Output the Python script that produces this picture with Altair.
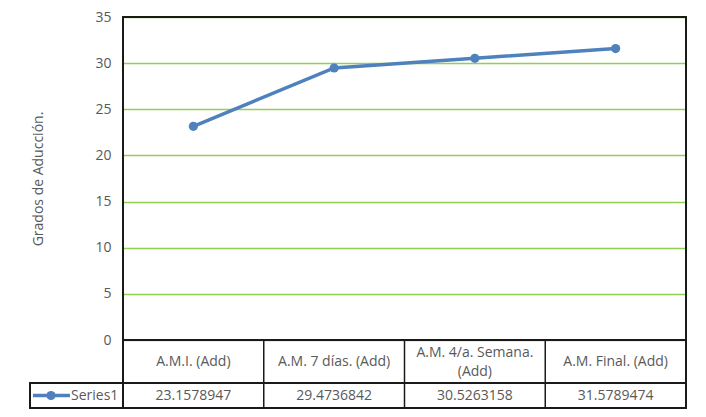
import altair as alt
import pandas as pd

categories = ["A.M.I. (Add)", "A.M. 7 días. (Add)", "A.M. 4/a. Semana. (Add)", "A.M. Final. (Add)"]
header_labels = ["A.M.I. (Add)", "A.M. 7 días. (Add)", "A.M. 4/a. Semana.\n(Add)", "A.M. Final. (Add)"]
values = [23.1578947, 29.4736842, 30.5263158, 31.5789474]
series_name = "Series1"
y_ticks = [0, 5, 10, 15, 20, 25, 30, 35]

W = 563      # plot width
PH = 323     # line plot height
HH = 43      # table header row height
DH = 25      # table data row height
TH = HH + DH
LEG = 93     # legend cell width
LINE_H = 19

FONT = "Open Sans"
GRAY = "#595959"
BLUE = "#4f81bd"
GREEN = "#92d050"
BORDER = "#1a1a1a"

df = pd.DataFrame({
    "cat": categories,
    "header": [h.split("\n") for h in header_labels],
    "nlines": [len(h.split("\n")) for h in header_labels],
    "value": values,
    "series": [series_name] * len(values),
})

sc = alt.Scale(domain=categories, paddingInner=0, paddingOuter=0)
xmid = alt.X("cat:N", scale=sc, axis=None, bandPosition=0.5)
xleft = alt.X("cat:N", scale=sc, axis=None, bandPosition=0)

base = alt.Chart(df)

yenc = alt.Y(
    "value:Q",
    scale=alt.Scale(domain=[0, 35], range=[PH, 0], nice=False, zero=True),
    axis=alt.Axis(
        values=y_ticks,
        title="Grados de Aducción.",
        titleFont=FONT,
        titleFontSize=14,
        titleFontWeight="normal",
        titleColor=GRAY,
        titlePadding=49,
        labelFont=FONT,
        labelFontSize=14,
        labelColor=GRAY,
        labelPadding=12,
        ticks=False,
        domain=False,
        grid=True,
        gridColor=GREEN,
        gridWidth=1.5,
    ),
)

line = base.mark_line(color=BLUE, strokeWidth=3.5).encode(x=xmid, y=yenc)
points = base.mark_point(filled=True, color=BLUE, size=85, opacity=1).encode(x=xmid, y=yenc)

frame = alt.Chart(df).mark_rect(fill="white", fillOpacity=0, stroke=BORDER, strokeWidth=1.5).encode(
    x=alt.value(0), x2=alt.value(W), y=alt.value(0), y2=alt.value(PH + TH)
)
axis_line = alt.Chart(df).mark_rule(color=BORDER, strokeWidth=1.5).encode(
    x=alt.value(0), x2=alt.value(W), y=alt.value(PH)
)
row_line = alt.Chart(df).mark_rule(color=BORDER, strokeWidth=1.5).encode(
    x=alt.value(-LEG), x2=alt.value(W), y=alt.value(PH + HH)
)
legend_cell = alt.Chart(df).mark_rect(fill="white", fillOpacity=0, stroke=BORDER, strokeWidth=1.5).encode(
    x=alt.value(-LEG), x2=alt.value(0), y=alt.value(PH + HH), y2=alt.value(PH + TH)
)
dividers = base.mark_rule(color=BORDER, strokeWidth=1.5).encode(
    x=xleft, y=alt.value(PH), y2=alt.value(PH + TH)
)

header_one = base.transform_filter("datum.nlines == 1").mark_text(
    font=FONT, fontSize=14, color=GRAY, baseline="middle", align="center", lineHeight=LINE_H
).encode(x=xmid, y=alt.value(PH + HH / 2 + 0.5), text="header")
header_two = base.transform_filter("datum.nlines == 2").mark_text(
    font=FONT, fontSize=14, color=GRAY, baseline="middle", align="center", lineHeight=LINE_H
).encode(x=xmid, y=alt.value(PH + HH / 2 + 0.5 - LINE_H / 2), text="header")
value_text = base.mark_text(font=FONT, fontSize=14, color=GRAY, baseline="middle", align="center").encode(
    x=xmid, y=alt.value(PH + HH + DH / 2), text=alt.Text("value:Q", format=".7f")
)

leg_df = pd.DataFrame({"series": [series_name]})
leg_line = alt.Chart(leg_df).mark_rule(color=BLUE, strokeWidth=3.5).encode(
    x=alt.value(-90), x2=alt.value(-53), y=alt.value(PH + HH + DH / 2)
)
leg_point = alt.Chart(leg_df).mark_point(filled=True, color=BLUE, size=85, opacity=1).encode(
    x=alt.value(-72), y=alt.value(PH + HH + DH / 2)
)
leg_text = alt.Chart(leg_df).mark_text(font=FONT, fontSize=14, color=GRAY, baseline="middle", align="left").encode(
    x=alt.value(-52), y=alt.value(PH + HH + DH / 2), text="series:N"
)

chart = alt.layer(
    line, points, frame, axis_line, row_line, legend_cell, dividers,
    header_one, header_two, value_text, leg_line, leg_point, leg_text
).properties(
    width=W,
    height=PH + TH,
    padding={"left": 115, "top": 9, "right": 12, "bottom": 1},
    autosize=alt.AutoSizeParams(type="none"),
).configure_view(stroke=None).configure(background="white")

chart.save("out.html", embed_options={"renderer": "svg", "actions": False})
